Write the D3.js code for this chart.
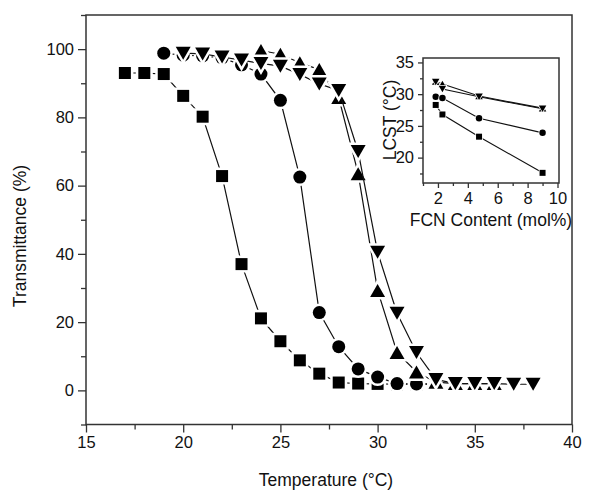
<!DOCTYPE html>
<html><head><meta charset="utf-8">
<script src="https://cdn.jsdelivr.net/npm/d3@7"></script>
<style>body{margin:0;background:#fff}svg{display:block;font-family:"Liberation Sans",Arial,sans-serif}</style>
</head><body><svg id="c" width="600" height="491"></svg>
<script>
// ---- main plot data ----
const tempSquare = [17,18,19,20,21,22,23,24,25,26,27,28,29,30,31,32,33];
const transSquare = [93.0,93.0,92.7,86.3,80.2,62.8,37.0,21.1,14.4,8.8,4.9,2.3,2.0,1.9,1.8,1.8,1.8];
const tempCircle = [19,20,21,22,23,24,25,26,27,28,29,30,31,32,33];
const transCircle = [98.8,98.2,98.0,97.4,95.4,92.7,85.0,62.5,22.8,12.8,6.3,3.9,2.0,1.9,1.9];
const tempUp = [24,25,26,27,28,29,30,31,32,33,34,35,36];
const transUp = [99.6,98.5,96.0,94.0,85.8,63.5,29.3,11.1,5.4,2.4,2.0,2.0,2.0];
const tempDown = [20,21,22,23,24,25,26,27,28,29,30,31,32,33,34,35,36,37,38];
const transDown = [98.8,98.6,97.7,96.8,95.8,95.0,92.6,89.8,87.9,70.0,40.5,22.6,11.1,3.2,2.0,2.0,2.0,1.8,1.8];
const xTicks = [15,20,25,30,35,40];
const yTicks = [0,20,40,60,80,100];
// ---- inset data ----
const fcnContent = [1.85,2.3,4.75,9.0];
const lcstSquare = [28.3,26.8,23.3,17.6];
const lcstCircle = [29.6,29.4,26.2,23.9];
const lcstUp = [32.0,31.6,29.7,27.8];
const lcstDown = [31.9,30.8,29.6,27.7];
const insetXTicks = [2,4,6,8,10];
const insetYTicks = [20,25,30,35];

const svg = d3.select("#c");
const ink = "#111";

function markerPath(type, s) {
  const h = s / 2;
  if (type === "square") return `M${-h},${-h}H${h}V${h}H${-h}Z`;
  if (type === "circle") return `M${-h},0A${h},${h} 0 1,0 ${h},0A${h},${h} 0 1,0 ${-h},0Z`;
  const w = s * 1.15 / 2, t = s * 1.0 / 2;
  if (type === "up") return `M0,${-t}L${w},${t}L${-w},${t}Z`;
  return `M0,${t}L${w},${-t}L${-w},${-t}Z`;
}

function drawPlot(g, x, y, series, sizes, halo, lw) {
  series.forEach(sr => {
    const pts = sr.xs.map((v, i) => [x(v), y(sr.ys[i])]);
    g.append("path").attr("d", d3.line()(pts)).attr("fill", "none")
      .attr("stroke", ink).attr("stroke-width", lw);
    g.selectAll(null).data(pts).join("path")
      .attr("transform", d => `translate(${d[0]},${d[1]})`)
      .attr("d", markerPath(sr.type, sizes[sr.type]))
      .attr("fill", "#000").attr("stroke", "#fff").attr("stroke-width", halo)
      .attr("paint-order", "stroke");
  });
}

function axes(g, x, y, xt, xminor, yt, yminor, fs, major, minor) {
  const [x0, x1] = x.range(), [y0, y1] = y.range();
  const ax = g.append("g").attr("transform", `translate(0,${y0})`)
    .call(d3.axisBottom(x).tickValues(xminor).tickSize(minor).tickFormat(""));
  const ax2 = g.append("g").attr("transform", `translate(0,${y0})`)
    .call(d3.axisBottom(x).tickValues(xt).tickSize(major).tickPadding(4).tickFormat(d3.format("d")));
  const ay = g.append("g").attr("transform", `translate(${x0},0)`)
    .call(d3.axisLeft(y).tickValues(yminor).tickSize(minor).tickFormat(""));
  const ay2 = g.append("g").attr("transform", `translate(${x0},0)`)
    .call(d3.axisLeft(y).tickValues(yt).tickSize(major).tickPadding(4).tickFormat(d3.format("d")));
  [ax, ax2, ay, ay2].forEach(a => {
    a.select(".domain").remove();
    a.selectAll("line").attr("stroke", "#333").attr("stroke-width", 1.3);
    a.selectAll("text").attr("fill", ink).style("font-size", fs + "px")
      .style("font-family", '"Liberation Sans",Arial,sans-serif');
  });
  g.append("rect").attr("x", x0).attr("y", y1).attr("width", x1 - x0).attr("height", y0 - y1)
    .attr("fill", "none").attr("stroke", "#333").attr("stroke-width", 1.5);
}

// ---- main plot ----
const x = d3.scaleLinear([15, 40], [86, 572]);
const y = d3.scaleLinear([-10, 110], [424.5, 15]);
const gMain = svg.append("g");
const xMinor = d3.range(15, 40.01, 2.5).filter(v => v % 5 !== 0);
const yMinor = d3.range(-10, 110.01, 10).filter(v => v % 20 !== 0);
axes(gMain, x, y, xTicks, xMinor, yTicks, yMinor, 16.5, 8, 5);
drawPlot(gMain, x, y, [
  {type: "square", xs: tempSquare, ys: transSquare},
  {type: "circle", xs: tempCircle, ys: transCircle},
  {type: "up", xs: tempUp, ys: transUp},
  {type: "down", xs: tempDown, ys: transDown}
], {square: 12, circle: 13, up: 13, down: 13}, 5, 1.2);

gMain.append("text").attr("x", 326).attr("y", 486).attr("text-anchor", "middle")
  .style("font-size", "17.5px").attr("fill", ink).text("Temperature (°C)");
gMain.append("text").attr("transform", "translate(26,236) rotate(-90)").attr("text-anchor", "middle")
  .style("font-size", "17.5px").attr("fill", ink).text("Transmittance (%)");

// ---- inset ----
const xi = d3.scaleLinear([1, 10.1], [423, 559]);
const yi = d3.scaleLinear([16, 35.7], [183, 58]);
const gIn = svg.append("g");
gIn.append("rect").attr("x", 423).attr("y", 58).attr("width", 136).attr("height", 125).attr("fill", "#fff");
axes(gIn, xi, yi, insetXTicks, [1,3,5,7,9], insetYTicks, [17.5,22.5,27.5,32.5], 16.5, 5, 3);
drawPlot(gIn, xi, yi, [
  {type: "square", xs: fcnContent, ys: lcstSquare},
  {type: "circle", xs: fcnContent, ys: lcstCircle},
  {type: "up", xs: fcnContent, ys: lcstUp},
  {type: "down", xs: fcnContent, ys: lcstDown}
], {square: 6, circle: 6.5, up: 6.5, down: 6.5}, 1.5, 1.1);
gIn.append("text").attr("x", 491).attr("y", 226).attr("text-anchor", "middle")
  .style("font-size", "17.5px").attr("fill", ink).text("FCN Content (mol%)");
gIn.append("text").attr("transform", "translate(396,120) rotate(-90)").attr("text-anchor", "middle")
  .style("font-size", "17.5px").attr("fill", ink).text("LCST (°C)");
</script></body></html>
